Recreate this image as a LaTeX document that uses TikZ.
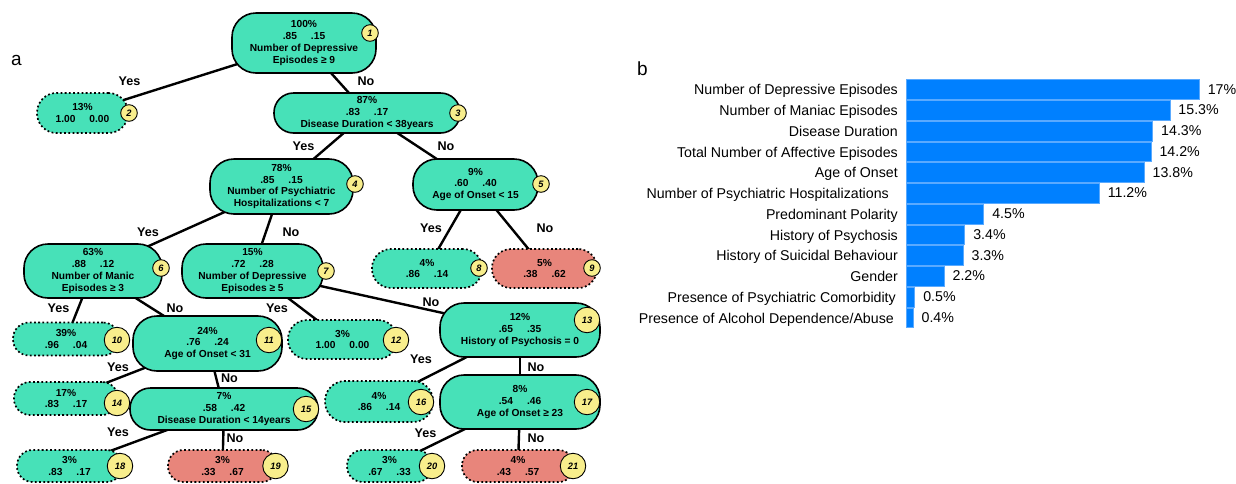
\documentclass[tikz,border=0pt]{standalone}
\usepackage{fontspec}
\setmainfont{Liberation Sans}
\usetikzlibrary{backgrounds}
\definecolor{tq}{HTML}{47E1B8}
\definecolor{rd}{HTML}{E8857B}
\definecolor{yl}{HTML}{F8EE8C}
\definecolor{bl}{HTML}{0080FF}
\definecolor{bledge}{HTML}{5AAAFF}
\newcommand\pp[2]{#1\hspace{14pt}#2}
\newcommand\featbar[6]{%
  \pgfmathsetmacro\yt{79+20.75*#1}
  \draw[bledge, line width=0.5pt, fill=bl] (906,\yt+0.5) rectangle ({906+17.24*#2},\yt+20.3);
  \node[barlab, anchor=base east] (lab#1) at (#5,\yt+15.8) {#4};
  \node[barlab, anchor=base west] (val#1) at ({906+17.24*#2+8.5},\yt+15) {#3};
}
\begin{document}
\begin{tikzpicture}[x=1pt,y=-1pt,
  tbox/.style={draw=black, line width=1.6pt, fill=tq, align=center, inner sep=0pt,
    font=\bfseries\fontsize{10.2}{11.7}\selectfont},
  inner/.style={tbox, rounded corners=24pt},
  leafbox/.style={tbox, line width=1.7pt, dash pattern=on 1.8pt off 2.4pt},
  redleaf/.style={leafbox, fill=rd},
  badge/.style={circle, draw=black, line width=0.9pt, fill=yl, inner sep=0pt,
    minimum size=16.6pt, font=\bfseries\itshape\fontsize{9.3}{9.3}\selectfont},
  badgeb/.style={badge, minimum size=25.5pt},
  conn/.style={line width=2.4pt, black},
  elab/.style={inner sep=0pt, font=\bfseries\fontsize{12.6}{12.6}\selectfont},
  barlab/.style={inner sep=0pt, font=\fontsize{14.2}{14.2}\selectfont},
  plab/.style={inner sep=0pt, anchor=base west, font=\fontsize{19}{19}\selectfont}]
\useasboundingbox (0,0) rectangle (1236,483);

% panel labels
\node[plab] (pa) at (11,65.5) {a};
\node[plab] (pb) at (637,75.5) {b};

% tree nodes
\node[inner, minimum width=144pt, minimum height=60pt] (n1) at (304,43)
  {100\%\\\pp{.85}{.15}\\Number of Depressive\\Episodes ≥ 9};
\node[leafbox, rounded corners=19.5pt, minimum width=91pt, minimum height=40pt] (n2) at (82.5,113)
  {13\%\\\pp{1.00}{0.00}};
\node[inner, rounded corners=19.5pt, minimum width=186pt, minimum height=40pt] (n3) at (367,113)
  {87\%\\\pp{.83}{.17}\\Disease Duration < 38years};
\node[inner, minimum width=143pt, minimum height=55pt] (n4) at (281.5,186.5)
  {78\%\\\pp{.85}{.15}\\Number of Psychiatric\\Hospitalizations < 7};
\node[inner, minimum width=125pt, minimum height=51pt] (n5) at (475.5,184.5)
  {9\%\\\pp{.60}{.40}\\Age of Onset < 15};
\node[inner, minimum width=138pt, minimum height=54pt] (n6) at (93,271)
  {63\%\\\pp{.88}{.12}\\Number of Manic\\Episodes ≥ 3};
\node[inner, minimum width=141pt, minimum height=54pt] (n7) at (252.5,271)
  {15\%\\\pp{.72}{.28}\\Number of Depressive\\Episodes ≥ 5};
\node[leafbox, rounded corners=19pt, minimum width=110pt, minimum height=39pt] (n8) at (427,268.5)
  {4\%\\\pp{.86}{.14}};
\node[redleaf, rounded corners=19pt, minimum width=105pt, minimum height=39pt] (n9) at (544.5,268.5)
  {5\%\\\pp{.38}{.62}};
\node[leafbox, rounded corners=16pt, minimum width=106pt, minimum height=33pt] (n10) at (66,339)
  {39\%\\\pp{.96}{.04}};
\node[inner, minimum width=149pt, minimum height=55pt] (n11) at (207.5,343.5)
  {24\%\\\pp{.76}{.24}\\Age of Onset < 31};
\node[leafbox, rounded corners=19pt, minimum width=109pt, minimum height=39pt] (n12) at (342.5,339.5)
  {3\%\\\pp{1.00}{0.00}};
\node[inner, minimum width=160pt, minimum height=54pt] (n13) at (520,330)
  {12\%\\\pp{.65}{.35}\\History of Psychosis = 0};
\node[leafbox, rounded corners=16pt, minimum width=104pt, minimum height=33pt] (n14) at (66,398.5)
  {17\%\\\pp{.83}{.17}};
\node[inner, rounded corners=20.5pt, minimum width=188pt, minimum height=42pt] (n15) at (224,409)
  {7\%\\\pp{.58}{.42}\\Disease Duration < 14years};
\node[leafbox, rounded corners=20pt, minimum width=108pt, minimum height=41pt] (n16) at (379,401.5)
  {4\%\\\pp{.86}{.14}};
\node[inner, minimum width=160pt, minimum height=54pt] (n17) at (520,402)
  {8\%\\\pp{.54}{.46}\\Age of Onset ≥ 23};
\node[leafbox, rounded corners=15.5pt, minimum width=105pt, minimum height=32pt] (n18) at (69.5,466)
  {3\%\\\pp{.83}{.17}};
\node[redleaf, rounded corners=15.5pt, minimum width=109pt, minimum height=32pt] (n19) at (222.5,466)
  {3\%\\\pp{.33}{.67}};
\node[leafbox, rounded corners=15.5pt, minimum width=85pt, minimum height=32pt] (n20) at (389.5,466)
  {3\%\\\pp{.67}{.33}};
\node[redleaf, rounded corners=15.5pt, minimum width=112pt, minimum height=32pt] (n21) at (518,466)
  {4\%\\\pp{.43}{.57}};

% badges
\node[badge] (bd1) at (370,33) {1};
\node[badge] (bd2) at (129,113) {2};
\node[badge] (bd3) at (458,113) {3};
\node[badge] (bd4) at (355,184) {4};
\node[badge] (bd5) at (541,184) {5};
\node[badge] (bd6) at (161,268) {6};
\node[badge] (bd7) at (326,271) {7};
\node[badge] (bd8) at (479,268) {8};
\node[badge] (bd9) at (592,268) {9};
\node[badgeb] (bd10) at (117,340) {10};
\node[badgeb] (bd11) at (269,340) {11};
\node[badgeb] (bd12) at (396,340) {12};
\node[badgeb] (bd13) at (587,320) {13};
\node[badgeb] (bd14) at (117,403) {14};
\node[badgeb] (bd15) at (306,409) {15};
\node[badgeb] (bd16) at (421,402) {16};
\node[badgeb] (bd17) at (587,402) {17};
\node[badgeb] (bd18) at (120,466) {18};
\node[badgeb] (bd19) at (275.5,466) {19};
\node[badgeb] (bd20) at (432,466) {20};
\node[badgeb] (bd21) at (573,466) {21};

% edge labels
\node[elab] (y1) at (129.5,81.5) {Yes};
\node[elab] (no1) at (366,81) {No};
\node[elab] (y3) at (303.5,146) {Yes};
\node[elab] (no3) at (446,146) {No};
\node[elab] (y4) at (148,232) {Yes};
\node[elab] (no4) at (291,232) {No};
\node[elab] (y5) at (431,228) {Yes};
\node[elab] (no5) at (545,228) {No};
\node[elab] (y6) at (58.5,308) {Yes};
\node[elab] (no6) at (175,308) {No};
\node[elab] (y7) at (277,308) {Yes};
\node[elab] (no7) at (431,302) {No};
\node[elab] (y11) at (118,367) {Yes};
\node[elab] (no11) at (229.5,378) {No};
\node[elab] (y13) at (421,359) {Yes};
\node[elab] (no13) at (536,367) {No};
\node[elab] (y15) at (118,432) {Yes};
\node[elab] (no15) at (235,438) {No};
\node[elab] (y17) at (425.5,433) {Yes};
\node[elab] (no17) at (536,438) {No};

% connectors
\begin{pgfonlayer}{background}
  \fill[white] (0,0) rectangle (1236,483);
  \foreach \a/\b in {1/2,1/3,3/4,3/5,4/6,4/7,5/8,5/9,6/10,6/11,7/12,7/13,
                     11/14,11/15,13/16,13/17,15/18,15/19,17/20,17/21}
    \draw[conn] (n\a.center) -- (n\b.center);
\end{pgfonlayer}

% bar chart
\featbar{0}{17}{17\%}{Number of Depressive Episodes}{898}{}
\featbar{1}{15.3}{15.3\%}{Number of Maniac Episodes}{898}{}
\featbar{2}{14.3}{14.3\%}{Disease Duration}{898}{}
\featbar{3}{14.2}{14.2\%}{Total Number of Affective Episodes}{898}{}
\featbar{4}{13.8}{13.8\%}{Age of Onset}{898}{}
\featbar{5}{11.2}{11.2\%}{Number of Psychiatric Hospitalizations}{889}{}
\featbar{6}{4.5}{4.5\%}{Predominant Polarity}{898}{}
\featbar{7}{3.4}{3.4\%}{History of Psychosis}{898}{}
\featbar{8}{3.3}{3.3\%}{History of Suicidal Behaviour}{898}{}
\featbar{9}{2.2}{2.2\%}{Gender}{898}{}
\featbar{10}{0.5}{0.5\%}{Presence of Psychiatric Comorbidity}{896}{}
\featbar{11}{0.4}{0.4\%}{Presence of Alcohol Dependence/Abuse}{894}{}
\end{tikzpicture}
\end{document}
